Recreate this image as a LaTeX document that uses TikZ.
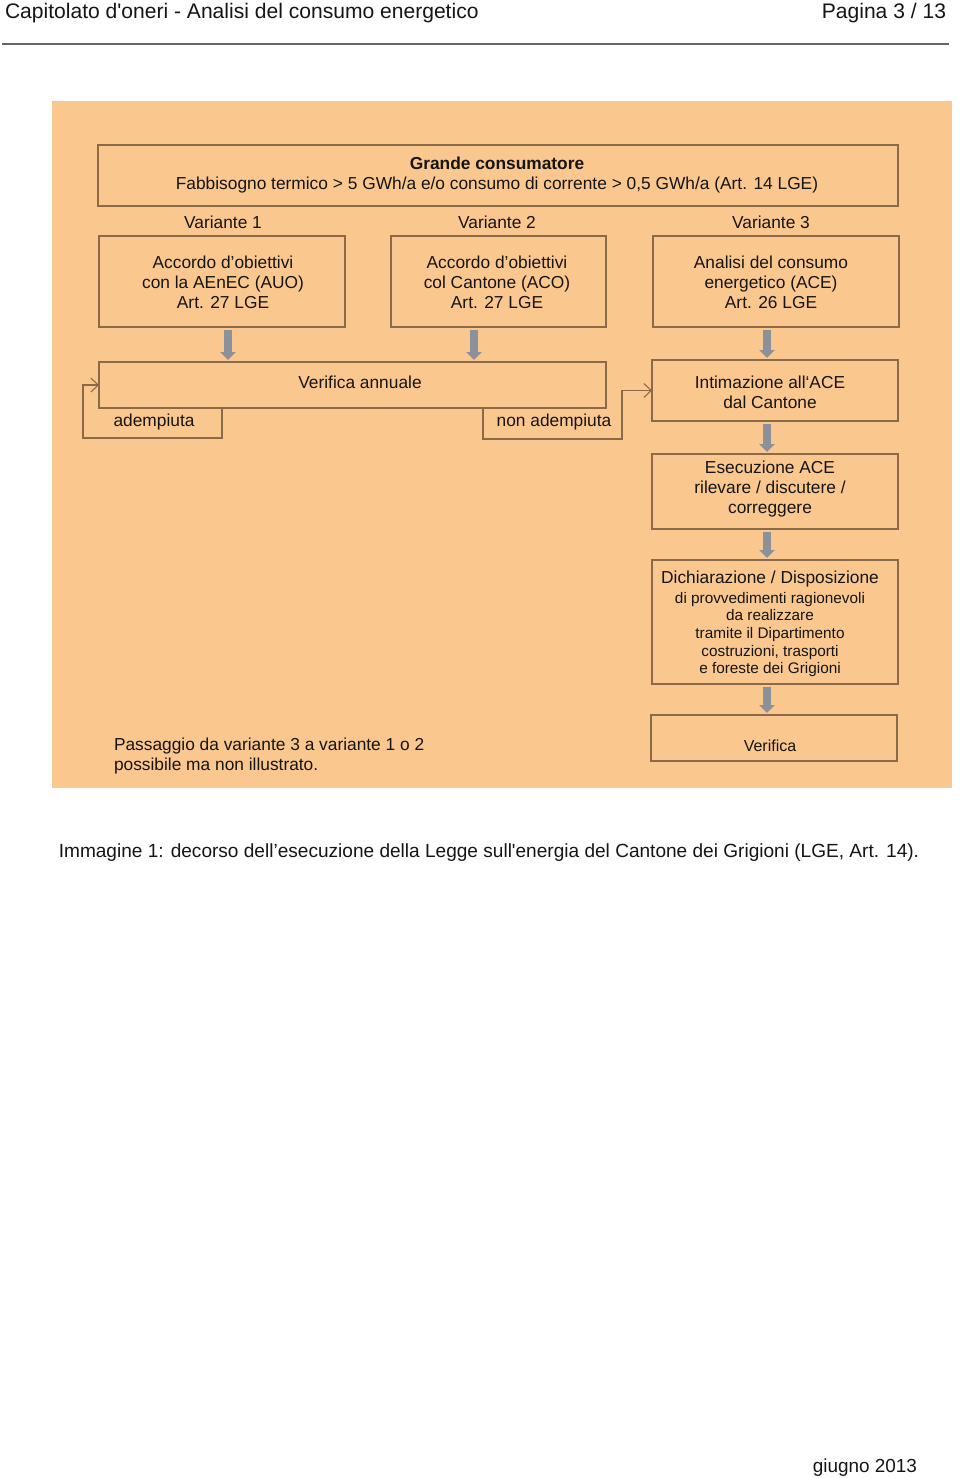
\documentclass[tikz,border=0pt]{standalone}
\usepackage{fontspec}
\setmainfont{Liberation Sans}[Ligatures=TeXOff]
\usetikzlibrary{arrows.meta,calc}
\definecolor{bgorange}{HTML}{FAC78E}
\definecolor{boxline}{HTML}{8A6A48}
\definecolor{arrowgray}{HTML}{8C9199}
\definecolor{txt}{HTML}{151515}
\begin{document}
\begin{tikzpicture}[x=0.75pt,y=-0.75pt,
  every node/.style={text=txt,inner sep=0pt,outer sep=0pt},
  box/.style={draw=boxline,line width=0.8pt,minimum width=184.5pt,anchor=center},
  main/.style={font=\fontsize{13}{15}\selectfont,align=center},
  small/.style={font=\fontsize{11.5}{13.3}\selectfont,align=center},
  garrow/.style={draw=arrowgray,line width=5.6pt,-{Triangle[width=11.5pt,length=6pt]},shorten <=2pt,shorten >=1.5pt},
  loopline/.style={draw=boxline,line width=0.8pt,-{Straight Barb[length=5.5pt,width=10.5pt]}}]
\useasboundingbox (0,0) rectangle (960,1478);
% header
\node[anchor=west,font=\fontsize{15.8}{18}\selectfont] (head) at (5,13) {Capitolato d'oneri - Analisi del consumo energetico};
\node[anchor=east,font=\fontsize{15.8}{18}\selectfont] (page) at (946,13) {Pagina 3 / 13};
\draw[draw=black!60,line width=1.2pt] (2,44) -- (949,44);
% background
\fill[bgorange] (52,101) rectangle (952,788);
% top box
\node[box,minimum width=600pt,minimum height=45.75pt] (top) at (498,175.5) {};
\node[main] (toptxt) at (497,175) {\textbf{Grande consumatore}\\Fabbisogno termico > 5 GWh/a e/o consumo di corrente > 0,5 GWh/a (Art. 14 LGE)};
% variants
\node[main] (v1) at (223,222) {Variante 1};
\node[main] (v2) at (497,222) {Variante 2};
\node[main] (v3) at (771,222) {Variante 3};
\node[box,minimum height=68.25pt] (b1) at (222,281.5) {};
\node[box,minimum width=161.25pt,minimum height=68.25pt] (b2) at (498.5,281.5) {};
\node[box,minimum height=68.25pt] (b3) at (776,281.5) {};
\node[main] (b1t) at (223,282) {Accordo d’obiettivi\\con la AEnEC (AUO)\\Art. 27 LGE};
\node[main] (b2t) at (497,282) {Accordo d’obiettivi\\col Cantone (ACO)\\Art. 27 LGE};
\node[main] (b3t) at (771,282) {Analisi del consumo\\energetico (ACE)\\Art. 26 LGE};
% verifica annuale
\node[box,minimum width=380.25pt,minimum height=34.5pt] (verif) at (352.5,385) {};
\node[main] (veriftxt) at (360,382) {Verifica annuale};
% right column
\node[box,minimum height=45.75pt] (intim) at (775,390.5) {};
\node[main] (intimt) at (770,392) {Intimazione all‘ACE\\dal Cantone};
\node[box,minimum height=56.25pt] (esec) at (775,491.5) {};
\node[main] (esect) at (770,489) {Esecuzione ACE\\rilevare / discutere /\\correggere};
\node[box,minimum height=93pt] (dich) at (775,622) {};
\node[main] (dicht1) at (770,579.5) {Dichiarazione / Disposizione};
\node[small] (dicht2) at (770,634.5) {di provvedimenti ragionevoli\\da realizzare\\tramite il Dipartimento\\costruzioni, trasporti\\e foreste dei Grigioni};
\node[box,minimum height=34.5pt] (ver2) at (774,738) {};
\node[font=\fontsize{12}{14}\selectfont] (ver2t) at (770,746) {Verifica};
% gray arrows
\coordinate (a1) at ($(b1.south)+(6,0)$);
\coordinate (a2) at ($(b2.south)+(-24.5,0)$);
\coordinate (a3) at ($(b3.south)+(-9,0)$);
\draw[garrow] (a1) -- (a1 |- verif.north);
\draw[garrow] (a2) -- (a2 |- verif.north);
\draw[garrow] (a3) -- (a3 |- intim.north);
\coordinate (a4) at ($(intim.south)+(-8,0)$);
\draw[garrow] (a4) -- (a4 |- esec.north);
\coordinate (a5) at ($(esec.south)+(-8,0)$);
\draw[garrow] (a5) -- (a5 |- dich.north);
\coordinate (a6) at ($(dich.south)+(-8,0)$);
\draw[garrow] (a6) -- (a6 |- ver2.north);
% loops
\draw[loopline] ($(verif.south west)+(123,0)$) -- ++(0,30) -- ++(-139,0) |- (verif.west);
\node[main] (adem) at (154,422) {adempiuta};
\draw[loopline] ($(verif.south west)+(384,0)$) -- ++(0,31) -- ++(139,0) |- (intim.west);
\node[main] (nonadem) at (554,422) {non adempiuta};
% note
\node[main,anchor=west,align=left,font=\fontsize{13}{15.4}\selectfont] (note) at (114,756) {Passaggio da variante 3 a variante 1 o 2\\possibile ma non illustrato.};
% caption
\node[font=\fontsize{14.3}{17}\selectfont] (cap) at (489,853) {Immagine 1: decorso dell’esecuzione della Legge sull'energia del Cantone dei Grigioni (LGE, Art. 14).};
% footer
\node[anchor=east,font=\fontsize{14.2}{16}\selectfont] (foot) at (917,1468) {giugno 2013};
\end{tikzpicture}
\end{document}
